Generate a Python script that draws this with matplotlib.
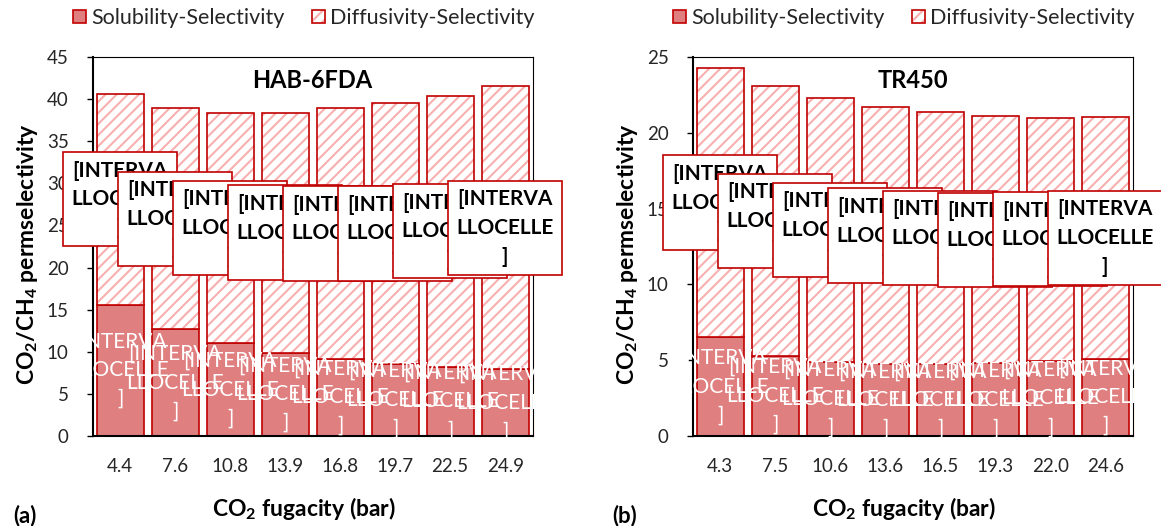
import matplotlib
matplotlib.use('Agg')
import matplotlib.pyplot as plt
from matplotlib.patches import Patch
from matplotlib.legend_handler import HandlerTuple
import numpy as np

plt.rcParams['font.family'] = ['Lato', 'DejaVu Sans']
plt.rcParams['mathtext.fontset'] = 'custom'
plt.rcParams['mathtext.rm'] = 'Lato'
plt.rcParams['mathtext.bf'] = 'Lato:bold'
plt.rcParams['hatch.linewidth'] = 1.5

# (a) HAB-6FDA
fug_a = ['4.4', '7.6', '10.8', '13.9', '16.8', '19.7', '22.5', '24.9']
sol_a = [15.6, 12.7, 11.0, 9.9, 9.2, 8.6, 8.2, 7.9]
diff_a = [25.0, 26.2, 27.4, 28.5, 29.7, 30.9, 32.2, 33.6]

# (b) TR450
fug_b = ['4.3', '7.5', '10.6', '13.6', '16.5', '19.3', '22.0', '24.6']
sol_b = [6.5, 5.3, 4.9, 4.75, 4.75, 4.8, 4.95, 5.1]
diff_b = [17.8, 17.8, 17.4, 16.95, 16.65, 16.3, 16.05, 15.95]

RED = '#C00000'
SOL_FC = '#DF7F7F'
HATCH_C = '#F8AFAF'
TXT = '#262626'
lbl = '[INTERVA\nLLOCELLE\n]'   # broken excel data labels, kept as in the figure


def draw_panel(ax, fug, sol, diff, ymax, title):
    x = np.arange(len(fug))
    w = 0.85
    ax.bar(x, sol, w, color=SOL_FC, edgecolor=RED, linewidth=1.2, zorder=2)
    ax.bar(x, diff, w, bottom=sol, color='white', edgecolor=HATCH_C,
           hatch='///', linewidth=0, zorder=2)
    ax.bar(x, diff, w, bottom=sol, color='none', edgecolor=RED,
           linewidth=1.2, zorder=2)

    # labels of solubility part (white, no box)
    for i in range(len(x)):
        ax.text(x[i], sol[i] / 2, lbl, color='white', fontsize=15,
                ha='center', va='center', linespacing=1.55, zorder=4)
    # labels of diffusivity part (boxed)
    for i in range(len(x)):
        ax.text(x[i], sol[i] + diff[i] / 2, lbl, color='black', fontsize=15,
                fontweight='bold', ha='center', va='center', linespacing=1.55,
                bbox=dict(boxstyle='square,pad=0.4', fc='white', ec=RED, lw=1.2),
                zorder=5)

    ax.set_xlim(-0.5, len(x) - 0.5)
    ax.set_ylim(0, ymax)
    ax.set_yticks(np.arange(0, ymax + 1, 5))
    ax.set_xticks(x)
    ax.set_xticklabels(fug)
    ax.tick_params(axis='x', length=0, pad=16, labelsize=13.5, labelcolor=TXT)
    ax.tick_params(axis='y', length=4.3, width=1, direction='out', pad=13,
                   labelsize=13.5, labelcolor=TXT)
    for s in ['left', 'bottom']:
        ax.spines[s].set_linewidth(1.5)
    for s in ['top', 'right']:
        ax.spines[s].set_linewidth(0.8)

    ax.text(0.5, 0.939, title, transform=ax.transAxes, ha='center', va='center',
            fontsize=17, fontweight='bold', zorder=6)
    ax.set_xlabel(r'CO$_\mathbf{2}$ fugacity (bar)', fontsize=16.5, fontweight='bold')
    ax.xaxis.set_label_coords(0.48, -0.155)
    ax.set_ylabel(r'CO$_\mathbf{2}$/CH$_\mathbf{4}$ permselectivity', fontsize=16.5,
                  fontweight='bold')
    ax.yaxis.set_label_coords(-0.12, 0.48)

    h_sol = Patch(facecolor=SOL_FC, edgecolor=RED, linewidth=1.2)
    h_diff = (Patch(facecolor='white', edgecolor=HATCH_C, hatch='///', linewidth=0),
              Patch(facecolor='none', edgecolor=RED, linewidth=1.2))
    ax.legend([h_sol, h_diff], ['Solubility-Selectivity', 'Diffusivity-Selectivity'],
              ncol=2, loc='center', bbox_to_anchor=(0.48, 1.103), frameon=False,
              fontsize=15.5, handlelength=0.6, handleheight=0.6, handletextpad=0.25,
              columnspacing=1.25, borderaxespad=0, labelcolor=TXT,
              handler_map={tuple: HandlerTuple(ndivide=1, pad=0)})


fig = plt.figure(figsize=(11.61, 5.26), dpi=100)
ax1 = fig.add_axes([0.0798, 0.1711, 0.379, 0.7205])
ax2 = fig.add_axes([0.5966, 0.1711, 0.379, 0.7205])

draw_panel(ax1, fug_a, sol_a, diff_a, 45, 'HAB-6FDA')
draw_panel(ax2, fug_b, sol_b, diff_b, 25, 'TR450')

fig.text(25 / 1161, 1 - 516 / 526, '(a)', fontsize=16, fontweight='bold',
         ha='center', va='center')
fig.text(625 / 1161, 1 - 516 / 526, '(b)', fontsize=16, fontweight='bold',
         ha='center', va='center')

fig.savefig('out.png', dpi=100)
